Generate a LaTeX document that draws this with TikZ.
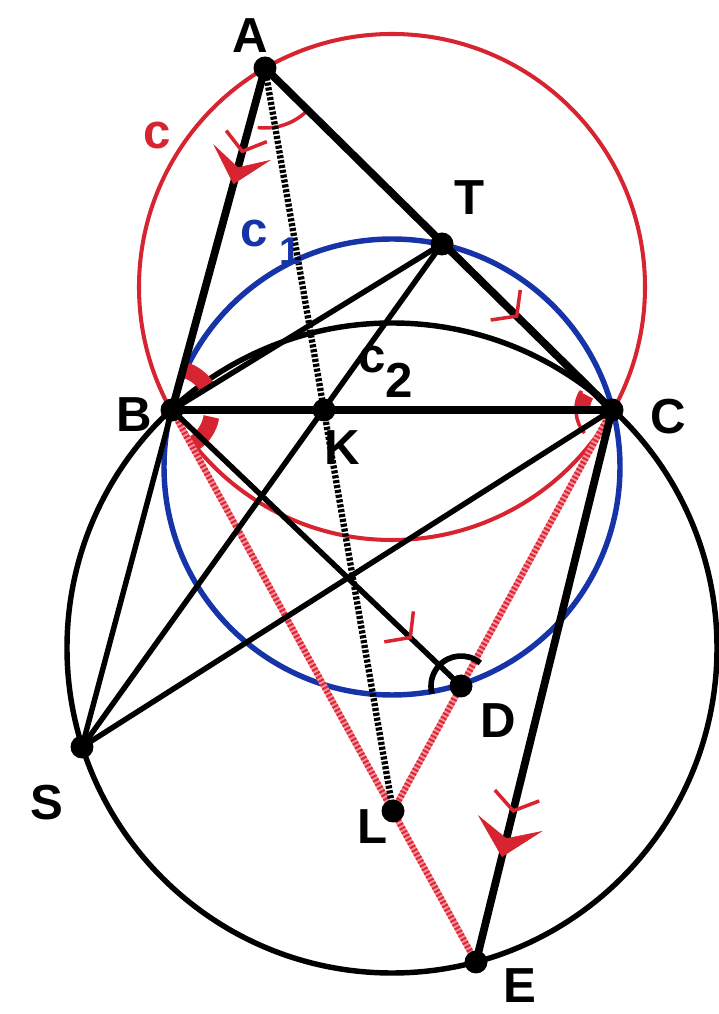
\documentclass[tikz,border=0pt]{standalone}
\usepackage{fontspec}
\setmainfont{Liberation Sans}
\usetikzlibrary{arrows.meta,decorations.markings}
\definecolor{cred}{RGB}{214,36,48}
\definecolor{cblue}{RGB}{22,52,168}
\definecolor{dred}{RGB}{222,40,55}
\definecolor{pred}{RGB}{246,150,158}
\begin{document}
\begin{tikzpicture}[x=0.02cm,y=0.02cm,
  lbl/.style={font=\fontsize{28}{30}\selectfont\bfseries, inner sep=0pt},
  clbl/.style={font=\fontsize{28}{30}\selectfont\bfseries, inner sep=0pt},
  sublbl/.style={font=\fontsize{22}{24}\selectfont\bfseries, inner sep=0pt},
  thickline/.style={line width=4.4pt, line cap=round},
  midline/.style={line width=3.1pt, line cap=round},
  circblack/.style={line width=3.1pt},
  circblue/.style={cblue, line width=3.1pt},
  circred/.style={cred, line width=2.3pt},
  blackdots/.style={line width=3.6pt, dash pattern=on 1.8pt off 1pt},
  redbase/.style={pred, line width=3.6pt},
  reddots/.style={dred, line width=3.6pt, dash pattern=on 1.2pt off 1.2pt},
  pt/.style={circle, fill=black, inner sep=0pt, minimum size=0.46cm},
  thinmark/.style={cred, line width=2pt},
  anglemark/.style={cred, line width=2pt},
  blobmark/.style={cred, line width=9pt}
]
\useasboundingbox (0,0) rectangle (719,1014);

% points
\coordinate (A) at (265,946);
\coordinate (T) at (442,770);
\coordinate (B) at (172,604);
\coordinate (C) at (612,604);
\coordinate (K) at (324,604);
\coordinate (D) at (461,328);
\coordinate (S) at (82,267);
\coordinate (L) at (393,203);
\coordinate (E) at (476,52);
% circle centres
\coordinate (Or) at (392,727);
\coordinate (Ob) at (392,547);
\coordinate (Ok) at (392,366);

% circles
\draw[circred] (Or) circle[radius=253];
\draw[circblue] (Ob) circle[radius=228];
\draw[circblack] (Ok) circle[radius=325];

% angle marks
\draw[anglemark] (A) ++(-97:60) arc[start angle=-97, end angle=-46, radius=60];
\draw[blobmark] (B) ++(34:42) arc[start angle=34, end angle=72, radius=42];
\draw[blobmark] (B) ++(-10:40) arc[start angle=-10, end angle=-56, radius=40];
\draw[anglemark] (C) ++(148:36) arc[start angle=148, end angle=220, radius=36];
\draw[blobmark] (C) ++(150:30) arc[start angle=150, end angle=174, radius=30];

% red dotted lines
\draw[redbase] (B) -- (E);
\draw[reddots] (B) -- (E);
\draw[redbase] (C) -- (L);
\draw[reddots] (C) -- (L);

% black lines
\draw[midline] (B) -- (T);
\draw[midline] (S) -- (T);
\draw[midline] (S) -- (B);
\draw[midline] (S) -- (C);
\draw[midline] (B) -- (D);
\draw[thickline] (A) -- (B);
\draw[thickline] (A) -- (C);
\draw[thickline] (B) -- (C);
\draw[thickline] (C) -- (E);

% black dotted line
\draw[blackdots] (A) -- (L);

% angle mark at D
\draw[line width=3.2pt] (D) ++(50:30) arc[start angle=50, end angle=195, radius=30];

% arrow marks
\path[decoration={markings,
  mark=at position 0.25 with {\arrow[thinmark]{Straight Barb[length=9pt,width=24pt]}},
  mark=at position 0.34 with {\arrow[cred]{Stealth[length=19pt,width=34pt,inset=9pt]}}}, decorate] (A) -- (B);
\path[decoration={markings,
  mark=at position 0.73 with {\arrow[thinmark]{Straight Barb[length=9pt,width=24pt]}}}, decorate] (A) -- (C);
\path[decoration={markings,
  mark=at position 0.83 with {\arrow[thinmark]{Straight Barb[length=9pt,width=24pt]}}}, decorate] (B) -- (D);
\path[decoration={markings,
  mark=at position 0.73 with {\arrow[thinmark]{Straight Barb[length=9pt,width=26pt]}},
  mark=at position 0.81 with {\arrow[cred]{Stealth[length=20pt,width=38pt,inset=9pt]}}}, decorate] (C) -- (E);

% dots
\node[pt] (dA) at (A) {};
\node[pt] (dT) at (T) {};
\node[pt] (dB) at (B) {};
\node[pt] (dC) at (C) {};
\node[pt] (dK) at (K) {};
\node[pt] (dD) at (D) {};
\node[pt] (dS) at (S) {};
\node[pt] (dL) at (L) {};
\node[pt] (dE) at (E) {};

% labels
\node[lbl] (lA) at (250,978) {A};
\node[lbl] (lT) at (470,816) {T};
\node[lbl] (lB) at (134,599) {B};
\node[lbl] (lC) at (668,597) {C};
\node[lbl] (lK) at (342,566) {K};
\node[lbl] (lD) at (498,293) {D};
\node[lbl] (lS) at (47,211) {S};
\node[lbl] (lL) at (373,187) {L};
\node[lbl] (lE) at (520,28) {E};
\node[clbl, text=cred] (lc) at (157,878) {c};
\node[clbl, text=cblue] (lc1) at (254,780) {c};
\node[sublbl, text=cblue] (lc1s) at (290,763) {1};
\node[clbl] (lc2) at (372,654) {c};
\node[lbl] (lc2s) at (399,634) {2};
\end{tikzpicture}
\end{document}
